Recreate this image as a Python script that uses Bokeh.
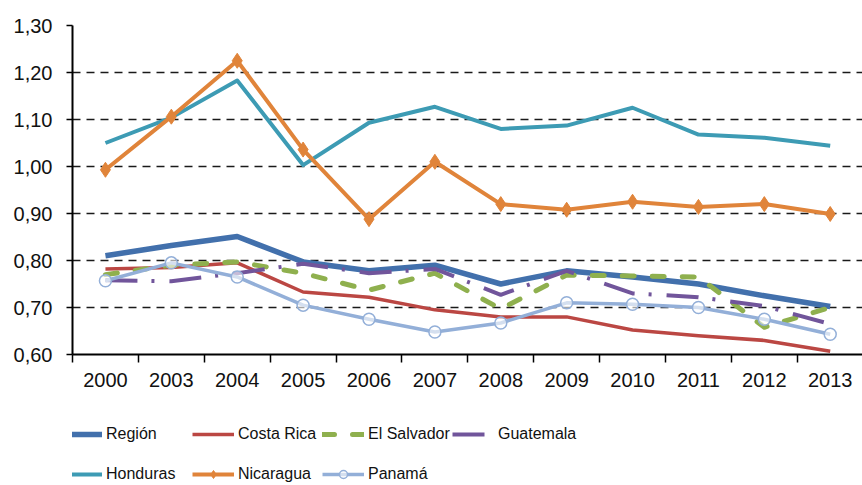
from bokeh.plotting import figure
from bokeh.layouts import column
from bokeh.models import (Range1d, FixedTicker, CustomJSTickFormatter, Legend, LegendItem,
                          ColumnDataSource)
from bokeh.embed import file_html
from bokeh.resources import INLINE

years = ["2000", "2003", "2004", "2005", "2006", "2007", "2008", "2009", "2010", "2011", "2012", "2013"]
region = [0.81, 0.832, 0.851, 0.797, 0.778, 0.790, 0.750, 0.778, 0.765, 0.750, 0.725, 0.702]
costa_rica = [0.782, 0.785, 0.795, 0.733, 0.722, 0.695, 0.680, 0.680, 0.652, 0.640, 0.630, 0.607]
el_salvador = [0.770, 0.790, 0.797, 0.773, 0.737, 0.773, 0.697, 0.769, 0.767, 0.765, 0.658, 0.700]
guatemala = [0.758, 0.756, 0.773, 0.793, 0.773, 0.782, 0.727, 0.778, 0.730, 0.722, 0.703, 0.665]
honduras = [1.050, 1.104, 1.183, 1.003, 1.093, 1.127, 1.080, 1.087, 1.125, 1.068, 1.061, 1.044]
nicaragua = [0.993, 1.106, 1.225, 1.036, 0.888, 1.010, 0.920, 0.908, 0.925, 0.914, 0.920, 0.899]
panama = [0.757, 0.795, 0.765, 0.705, 0.675, 0.648, 0.667, 0.710, 0.707, 0.700, 0.675, 0.643]
y_ticks = [0.60, 0.70, 0.80, 0.90, 1.00, 1.10, 1.20, 1.30]
series_names = ["Región", "Costa Rica", "El Salvador", "Guatemala", "Honduras", "Nicaragua", "Panamá"]

FONT = "Liberation Sans"
x = list(range(len(years)))

p = figure(width=862, height=400, output_backend="svg", toolbar_location=None,
           x_range=Range1d(-0.5, 11.49), y_range=Range1d(0.60, 1.30),
           min_border_left=72, min_border_right=0, min_border_top=25, min_border_bottom=46)
p.outline_line_color = None
p.background_fill_color = "white"
p.border_fill_color = "white"

# axes
p.xaxis.ticker = FixedTicker(ticks=x, minor_ticks=[i - 0.5 for i in range(len(years) + 1)])
p.xaxis.major_label_overrides = {i: y for i, y in enumerate(years)}
p.xaxis.major_tick_out = 0
p.xaxis.major_tick_in = 0
p.xaxis.minor_tick_out = 8
p.xaxis.minor_tick_in = 0
p.xaxis.minor_tick_line_color = "black"
p.xaxis.minor_tick_line_width = 1.5
p.xaxis.axis_line_color = "black"
p.xaxis.axis_line_width = 2
p.xaxis.major_label_standoff = 10
p.xaxis.major_label_text_font = FONT
p.xaxis.major_label_text_font_size = "20px"
p.xaxis.major_label_text_color = "#111111"

p.yaxis.ticker = FixedTicker(ticks=y_ticks)
p.yaxis.formatter = CustomJSTickFormatter(code="return tick.toFixed(2).replace('.', ',');")
p.yaxis.major_tick_out = 6
p.yaxis.major_tick_in = 0
p.yaxis.minor_tick_line_color = None
p.yaxis.major_tick_line_color = "black"
p.yaxis.major_tick_line_width = 1.5
p.yaxis.axis_line_color = "black"
p.yaxis.axis_line_width = 2
p.yaxis.major_label_standoff = 14
p.yaxis.major_label_text_font = FONT
p.yaxis.major_label_text_font_size = "20px"
p.yaxis.major_label_text_color = "#111111"

p.xgrid.grid_line_color = None
p.ygrid.ticker = FixedTicker(ticks=y_ticks[1:])
p.ygrid.grid_line_color = "#1a1a1a"
p.ygrid.grid_line_width = 1.3
p.ygrid.grid_line_dash = "8 6"

src = ColumnDataSource(dict(x=x, region=region, cr=costa_rica, sv=el_salvador, gt=guatemala,
                            hn=honduras, ni=nicaragua, pa=panama))

styles = {
    "Región": dict(line_color="#4270AC", line_width=5.5),
    "Costa Rica": dict(line_color="#BB4743", line_width=3.5),
    "El Salvador": dict(line_color="#8FB04E", line_width=5, line_cap="round", line_dash="12 18"),
    "Guatemala": dict(line_color="#71559B", line_width=4, line_dash="32 14 3 15"),
    "Honduras": dict(line_color="#3D9BB4", line_width=4),
    "Nicaragua": dict(line_color="#E0843A", line_width=4),
    "Panamá": dict(line_color="#93AFD8", line_width=3.5),
}
markers = {
    "Nicaragua": dict(marker="diamond", size=15, fill_color="#E0843A", line_color="#E0843A"),
    "Panamá": dict(marker="circle", size=12, fill_color="white", fill_alpha=0.6,
                   line_color="#93AFD8", line_width=1.5),
}
cols = dict(zip(series_names, ["region", "cr", "sv", "gt", "hn", "ni", "pa"]))

for name in series_names:
    p.line("x", cols[name], source=src, line_join="round", **styles[name])
    if name in markers:
        p.scatter("x", cols[name], source=src, **markers[name])

# legend strip below the chart: same series, drawn out of view so only the legend shows
lf = figure(width=862, height=85, output_backend="svg", toolbar_location=None,
            x_range=Range1d(-3, -2), y_range=Range1d(0, 1),
            x_axis_type=None, y_axis_type=None, min_border=0)
lf.outline_line_color = None
lf.xgrid.grid_line_color = None
lf.ygrid.grid_line_color = None
lf.border_fill_color = "white"

leg_r = {}
for name in series_names:
    rs = [lf.line("x", cols[name], source=src, line_join="round", **styles[name])]
    if name in markers:
        rs.append(lf.scatter("x", cols[name], source=src, **markers[name]))
    leg_r[name] = rs

FRAME_LEFT = 72
layout_cols = [
    (60, ["Región", "Honduras"]),
    (192, ["Costa Rica", "Nicaragua"]),
    (322, ["El Salvador", "Panamá"]),
    (452, ["Guatemala"]),
]
H = 85
row1_top = 24
for px, names in layout_cols:
    n = len(names)
    h = n * 20 + (n - 1) * 20
    leg = Legend(items=[LegendItem(label=nm, renderers=leg_r[nm]) for nm in names],
                 location=(px - FRAME_LEFT, H - h - row1_top), orientation="vertical",
                 glyph_width=42, glyph_height=20, label_height=20, label_standoff=4,
                 spacing=20, padding=0, margin=0, border_line_color=None,
                 background_fill_alpha=0, label_text_font=FONT,
                 label_text_font_size="16px", label_text_color="#111111")
    lf.add_layout(leg, "center")

open("out.html", "w").write(file_html(column(p, lf), INLINE))
